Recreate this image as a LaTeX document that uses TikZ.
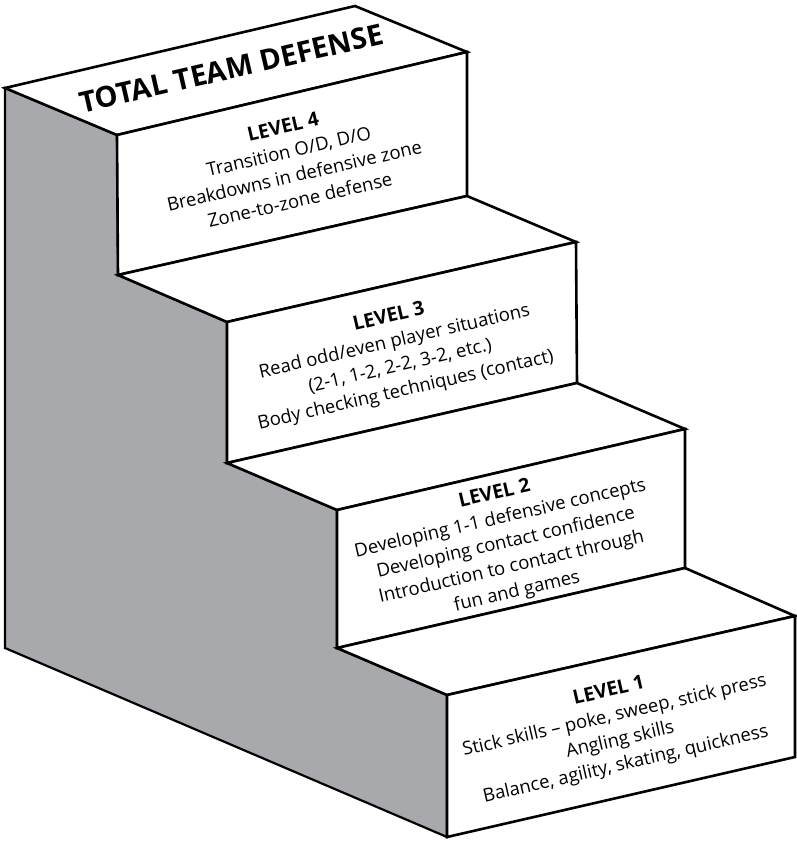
\documentclass[tikz,border=0pt]{standalone}
\usepackage{fontspec}
\usetikzlibrary{calc}
\setmainfont{Open Sans}
\definecolor{sidegray}{RGB}{168,169,173}
\newcommand\lvfont{\fontsize{18.5}{25}\selectfont}
\newcommand\lvbold{\fontsize{19.5}{25}\selectfont\bfseries}
\newcommand\ttlfont{\fontsize{29}{32}\selectfont\bfseries}
\begin{document}
\begin{tikzpicture}[x=1pt,y=1pt,
  edge/.style={draw=black,line width=2.6pt,line join=miter,line cap=round},
  face/.style={edge,fill=white},
  lvline/.style={rotate=13,anchor=base,inner sep=0pt,font=\lvfont},
  lvhead/.style={lvline,font=\lvbold},
  ttl/.style={rotate=13,anchor=base,inner sep=0pt,font=\ttlfont}]
\useasboundingbox (0,0) rectangle (797,-841);
% corners (image pixel coordinates, y downward negated)
\coordinate (BKL) at (5,-88);
\coordinate (BKR) at (355,-6);
\coordinate (GB) at (5,-648);
\coordinate (A4) at (117,-135); \coordinate (B4) at (467,-52); \coordinate (C4) at (467,-196); \coordinate (D4) at (118,-275);
\coordinate (A3) at (227,-322); \coordinate (B3) at (576,-242); \coordinate (C3) at (577,-383); \coordinate (D3) at (227,-463);
\coordinate (A2) at (337,-510); \coordinate (B2) at (685,-429); \coordinate (C2) at (685,-568); \coordinate (D2) at (337,-648);
\coordinate (A1) at (447,-695); \coordinate (B1) at (795,-616); \coordinate (C1) at (795,-757); \coordinate (D1) at (447,-837);
% gray side
\filldraw[fill=sidegray,draw=black,line width=2.2pt,line join=miter]
  (BKL) -- (GB) -- (D1) -- (A1) -- (D2) -- (A2) -- (D3) -- (A3) -- (D4) -- (A4) -- cycle;
% top face, risers and treads
\path[face] (BKL) -- (BKR) -- (B4) -- (A4) -- cycle;
\path[face] (A4) -- (B4) -- (C4) -- (D4) -- cycle;
\path[face] (D4) -- (C4) -- (B3) -- (A3) -- cycle;
\path[face] (A3) -- (B3) -- (C3) -- (D3) -- cycle;
\path[face] (D3) -- (C3) -- (B2) -- (A2) -- cycle;
\path[face] (A2) -- (B2) -- (C2) -- (D2) -- cycle;
\path[face] (D2) -- (C2) -- (B1) -- (A1) -- cycle;
\path[face] (A1) -- (B1) -- (C1) -- (D1) -- cycle;
% text anchors (middle of each text block, on the mean baseline)
\coordinate (ttlc) at (233.5,-78.5);
\coordinate (l4) at (293,-170);
\coordinate (l3) at (398.5,-359);
\coordinate (l2) at (507,-548);
\coordinate (l1) at (618.5,-733);
% title
\node[ttl] (title) at (ttlc) {TOTAL TEAM DEFENSE};
% level 4
\node[lvhead] (l4a) at ($(l4)+(103:37.5)$) {LEVEL 4};
\node[lvline] (l4b) at ($(l4)+(103:12.5)$) {Transition O/D, D/O};
\node[lvline] (l4c) at ($(l4)+(103:-12.5)$) {Breakdowns in defensive zone};
\node[lvline] (l4d) at ($(l4)+(103:-37.5)$) {Zone-to-zone defense};
% level 3
\node[lvhead] (l3a) at ($(l3)+(103:37.5)$) {LEVEL 3};
\node[lvline] (l3b) at ($(l3)+(103:12.5)$) {Read odd/even player situations};
\node[lvline] (l3c) at ($(l3)+(103:-12.5)$) {(2-1, 1-2, 2-2, 3-2, etc.)};
\node[lvline] (l3d) at ($(l3)+(103:-37.5)$) {Body checking techniques (contact)};
% level 2
\node[lvhead] (l2a) at ($(l2)+(103:50)$) {LEVEL 2};
\node[lvline] (l2b) at ($(l2)+(103:25)$) {Developing 1-1 defensive concepts};
\node[lvline] (l2c) at (l2) {Developing contact confidence};
\node[lvline] (l2d) at ($(l2)+(103:-25)$) {Introduction to contact through};
\node[lvline] (l2e) at ($(l2)+(103:-50)$) {fun and games};
% level 1
\node[lvhead] (l1a) at ($(l1)+(103:37.5)$) {LEVEL 1};
\node[lvline] (l1b) at ($(l1)+(103:12.5)$) {Stick skills – poke, sweep, stick press};
\node[lvline] (l1c) at ($(l1)+(103:-12.5)$) {Angling skills};
\node[lvline] (l1d) at ($(l1)+(103:-37.5)$) {Balance, agility, skating, quickness};
\end{tikzpicture}
\end{document}
